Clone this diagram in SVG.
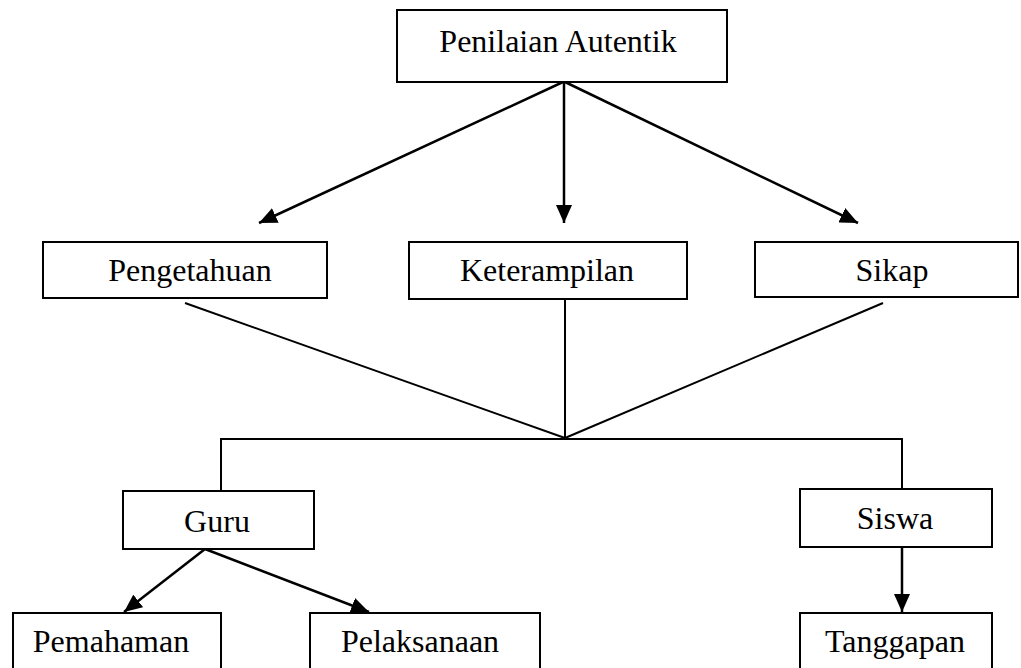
<svg xmlns="http://www.w3.org/2000/svg" width="1021" height="668" viewBox="0 0 1021 668">
<style>
.box{fill:#fff;stroke:#000;stroke-width:2}
.t{font-family:"Liberation Serif","Times New Roman",serif;font-size:32px;fill:#000;text-anchor:middle}
.ln{stroke:#000;stroke-width:2;fill:none}
.ar{stroke:#000;stroke-width:2.5;fill:none;marker-end:url(#ah)}
</style>
<defs>
<marker id="ah" markerUnits="userSpaceOnUse" markerWidth="20" markerHeight="16" refX="18" refY="8" orient="auto">
<path d="M0,0 L18,8 L0,16 Z" fill="#000"/>
</marker>
</defs>
<rect width="1021" height="668" fill="#fff"/>
<g id="connectors">
<line class="ar" x1="563" y1="82" x2="259" y2="223"/>
<line class="ar" x1="564" y1="82" x2="564" y2="223"/>
<line class="ar" x1="565" y1="82" x2="858" y2="223"/>
<line class="ln" x1="185" y1="303" x2="565" y2="438"/>
<line class="ln" x1="565" y1="299" x2="565" y2="438"/>
<line class="ln" x1="883" y1="303" x2="565" y2="438"/>
<polyline class="ln" points="221,491 221,439 902,439 902,489"/>
<line class="ar" x1="205" y1="549" x2="124" y2="612"/>
<line class="ar" x1="205" y1="549" x2="369" y2="612"/>
<line class="ar" x1="902" y1="547" x2="902" y2="612"/>
</g>
<g id="penilaian"><rect class="box" x="397" y="10" width="330" height="72"/><text class="t" x="558" y="52">Penilaian Autentik</text></g>
<g id="pengetahuan"><rect class="box" x="43" y="242" width="284" height="56"/><text class="t" x="190" y="281">Pengetahuan</text></g>
<g id="keterampilan"><rect class="box" x="409" y="242" width="278" height="57"/><text class="t" x="547" y="281">Keterampilan</text></g>
<g id="sikap"><rect class="box" x="755" y="242" width="263" height="55"/><text class="t" x="892" y="281">Sikap</text></g>
<g id="guru"><rect class="box" x="123" y="491" width="191" height="58"/><text class="t" x="217" y="532">Guru</text></g>
<g id="siswa"><rect class="box" x="800" y="489" width="192" height="58"/><text class="t" x="895" y="529">Siswa</text></g>
<g id="pemahaman"><rect class="box" x="13" y="613" width="208" height="70"/><text class="t" x="111" y="652">Pemahaman</text></g>
<g id="pelaksanaan"><rect class="box" x="310" y="613" width="230" height="70"/><text class="t" x="420" y="652">Pelaksanaan</text></g>
<g id="tanggapan"><rect class="box" x="800" y="613" width="192" height="70"/><text class="t" x="895" y="652">Tanggapan</text></g>
</svg>
